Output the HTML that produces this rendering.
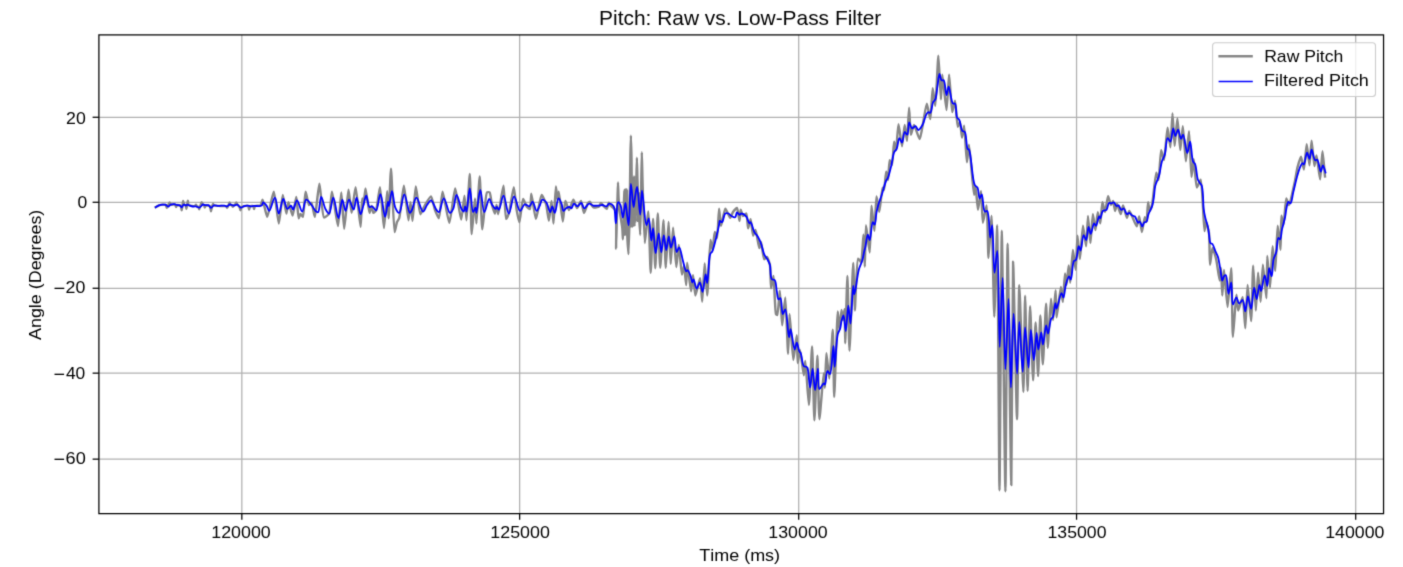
<!DOCTYPE html>
<html><head><meta charset="utf-8"><style>
html,body{margin:0;padding:0;background:#fff;width:1403px;height:567px;overflow:hidden}
svg{display:block}
text{font-family:"Liberation Sans",sans-serif;font-kerning:none;}
</style></head><body>
<svg width="1403" height="567" viewBox="0 0 1403 567">
<defs><filter id="soft" filterUnits="userSpaceOnUse" x="0" y="0" width="1403" height="567" color-interpolation-filters="sRGB"><feConvolveMatrix order="3" kernelMatrix="0.01917 0.10012 0.01917 0.10012 0.52283 0.10012 0.01917 0.10012 0.01917" divisor="1" edgeMode="duplicate"/></filter></defs>
<g filter="url(#soft)">
<rect width="1403" height="567" fill="#fff"/>
<line x1="241.83" y1="34.90" x2="241.83" y2="513.63" stroke="#b0b0b0" stroke-width="1.25"/>
<line x1="519.64" y1="34.90" x2="519.64" y2="513.63" stroke="#b0b0b0" stroke-width="1.25"/>
<line x1="798.70" y1="34.90" x2="798.70" y2="513.63" stroke="#b0b0b0" stroke-width="1.25"/>
<line x1="1076.56" y1="34.90" x2="1076.56" y2="513.63" stroke="#b0b0b0" stroke-width="1.25"/>
<line x1="1355.70" y1="34.90" x2="1355.70" y2="513.63" stroke="#b0b0b0" stroke-width="1.25"/>
<line x1="98.90" y1="117.27" x2="1383.55" y2="117.27" stroke="#b0b0b0" stroke-width="1.25"/>
<line x1="98.90" y1="202.27" x2="1383.55" y2="202.27" stroke="#b0b0b0" stroke-width="1.25"/>
<line x1="98.90" y1="288.27" x2="1383.55" y2="288.27" stroke="#b0b0b0" stroke-width="1.25"/>
<line x1="98.90" y1="373.15" x2="1383.55" y2="373.15" stroke="#b0b0b0" stroke-width="1.25"/>
<line x1="98.90" y1="459.15" x2="1383.55" y2="459.15" stroke="#b0b0b0" stroke-width="1.25"/>
<polygon points="623.6,191.0 628.2,190.0 628.2,235.0 623.6,236.0" fill="#878787"/>
<polygon points="629.3,178.0 635.6,176.0 635.6,226.0 629.3,228.0" fill="#878787"/>
<polygon points="637.0,193.0 640.5,192.0 640.5,222.0 637.0,222.0" fill="#878787"/>
<path d="M155.70,207.20 C156.29,206.87 158.28,205.64 158.90,205.40 C159.52,205.16 161.85,204.63 162.50,204.60 C163.12,204.57 165.41,204.69 165.80,205.00 C166.17,205.30 166.59,207.79 166.80,207.80 C167.00,207.81 167.76,205.95 168.00,205.50 C168.27,204.97 169.33,202.40 169.60,202.40 C169.84,202.40 170.41,204.58 170.80,204.80 C171.30,205.07 174.53,204.11 175.00,204.40 C175.38,204.64 175.81,206.99 176.00,207.00 C176.17,207.01 176.67,205.15 177.00,205.00 C177.44,204.80 180.37,205.54 180.80,206.00 C181.26,206.48 181.55,210.30 181.70,210.30 C181.85,210.30 182.28,206.82 182.40,206.00 C182.53,205.12 182.92,201.01 183.10,201.00 C183.26,200.99 183.86,204.46 184.20,204.80 C184.41,205.01 185.41,204.99 185.60,205.20 C185.91,205.53 186.27,208.80 186.40,208.80 C186.54,208.80 186.97,205.54 187.10,204.80 C187.23,204.04 187.66,200.60 187.80,200.60 C187.94,200.60 188.08,204.49 188.60,205.00 C189.23,205.61 194.37,206.27 195.00,206.00 C195.33,205.86 195.82,204.59 196.00,204.60 C196.19,204.61 196.77,206.08 197.00,206.30 C197.20,206.49 198.11,206.79 198.30,207.00 C198.54,207.27 199.03,209.20 199.20,209.20 C199.40,209.19 200.09,206.61 200.30,206.00 C200.53,205.33 201.34,202.22 201.60,202.20 C201.81,202.19 202.52,204.36 202.80,204.60 C202.99,204.77 203.83,204.83 204.00,205.00 C204.25,205.25 204.63,207.49 204.80,207.50 C204.96,207.51 205.45,205.47 205.80,205.30 C206.27,205.08 209.52,205.89 210.00,206.40 C210.52,206.95 210.81,211.30 211.00,211.30 C211.18,211.30 211.78,207.33 212.00,206.60 C212.16,206.05 212.77,204.04 213.00,204.00 C213.19,203.97 213.86,205.22 214.20,205.40 C214.72,205.67 217.59,205.82 218.50,205.90 C219.72,206.00 225.60,205.90 226.30,206.30 C226.62,206.49 227.03,207.71 227.20,207.70 C227.41,207.69 228.20,205.95 228.40,205.50 C228.63,204.99 229.29,202.41 229.50,202.40 C229.69,202.39 230.34,204.53 230.60,204.80 C230.79,204.99 231.61,205.23 231.80,205.40 C232.01,205.59 232.52,206.79 232.70,206.80 C232.89,206.81 233.56,205.61 233.80,205.40 C234.04,205.19 235.08,204.74 235.30,204.50 C235.55,204.22 236.11,202.40 236.30,202.40 C236.50,202.40 237.12,204.42 237.40,204.80 C237.68,205.18 239.13,206.08 239.40,206.50 C239.73,207.01 240.20,210.19 240.40,210.20 C240.57,210.21 241.06,207.78 241.40,207.40 C241.74,207.02 243.54,206.24 244.10,206.10 C244.76,205.94 247.75,205.66 248.20,206.00 C248.63,206.32 248.92,209.50 249.10,209.50 C249.27,209.50 249.71,206.62 250.10,206.30 C250.48,205.99 252.83,205.75 253.20,206.00 C253.57,206.25 253.94,209.00 254.10,209.00 C254.26,209.00 254.58,206.34 255.00,206.00 C255.56,205.54 259.80,206.04 260.50,205.50 C261.23,204.93 262.17,199.68 262.60,199.70 C263.32,199.73 266.29,216.90 267.20,216.90 C268.31,216.90 272.77,191.65 273.80,191.70 C274.94,191.76 277.96,223.51 278.80,223.50 C279.60,223.49 282.02,195.02 282.80,195.00 C283.43,194.98 285.85,213.60 286.40,213.60 C286.83,213.60 287.88,202.33 288.40,202.30 C288.98,202.26 291.92,215.64 292.60,215.60 C293.40,215.56 295.75,196.98 296.30,197.00 C296.88,197.02 298.07,218.11 298.70,218.20 C298.99,218.24 300.09,214.06 300.50,214.00 C300.87,213.95 302.53,217.01 302.90,216.90 C303.86,216.61 304.90,191.75 305.60,191.70 C306.11,191.66 308.16,204.72 309.00,205.00 C309.41,205.14 311.10,202.86 311.50,203.00 C312.35,203.29 314.22,216.93 314.80,216.90 C315.69,216.86 318.56,183.80 319.40,183.80 C320.25,183.80 322.24,216.78 324.00,217.50 C324.76,217.81 328.39,214.82 329.10,213.60 C330.41,211.33 331.32,191.71 332.00,191.70 C332.86,191.68 337.14,226.13 338.00,226.10 C338.84,226.07 340.74,192.39 341.30,192.40 C341.88,192.41 343.56,228.79 344.20,228.80 C344.87,228.81 347.74,189.81 348.50,189.80 C349.09,189.79 350.97,212.89 351.60,212.90 C352.27,212.91 354.86,187.09 355.60,187.10 C356.51,187.11 359.99,226.82 360.60,226.80 C361.11,226.78 361.77,198.43 362.20,198.40 C362.41,198.39 363.26,205.01 363.50,205.00 C363.87,204.99 365.03,188.41 365.50,188.40 C366.08,188.39 368.80,212.86 369.50,212.90 C369.88,212.92 371.14,206.00 371.50,206.00 C371.86,206.00 372.86,212.75 373.40,212.90 C373.79,213.01 375.66,211.13 376.10,210.30 C377.19,208.23 379.35,187.08 380.00,187.10 C380.85,187.13 383.33,228.10 384.00,228.10 C384.64,228.10 386.77,191.09 387.20,191.10 C387.57,191.11 388.31,218.20 388.60,218.20 C388.99,218.20 390.49,168.60 391.00,168.60 C391.57,168.60 393.63,232.01 394.60,232.10 C394.99,232.13 396.45,223.38 397.00,222.00 C397.36,221.10 398.82,219.29 399.20,218.20 C400.24,215.22 403.06,185.80 403.90,185.80 C404.77,185.80 407.85,220.21 408.50,220.20 C408.97,220.19 410.14,202.30 410.50,202.30 C410.87,202.30 412.10,220.80 412.50,220.80 C413.04,220.80 415.02,186.53 415.80,186.50 C416.50,186.48 419.21,214.02 420.40,214.20 C421.12,214.31 424.03,206.62 425.00,205.00 C425.98,203.36 430.12,196.26 431.00,196.40 C432.03,196.57 434.18,207.85 435.00,210.00 C435.66,211.72 438.30,218.29 438.90,218.20 C439.93,218.04 441.71,191.73 442.60,191.70 C443.57,191.66 448.17,222.82 449.30,222.80 C450.49,222.77 454.08,188.41 455.20,188.40 C456.27,188.39 460.32,219.52 461.20,219.50 C461.97,219.48 464.02,195.69 464.50,195.70 C464.99,195.71 466.10,220.20 466.50,220.20 C467.05,220.20 469.33,173.89 469.80,173.90 C470.33,173.91 471.11,234.08 471.70,234.10 C472.16,234.11 474.56,198.39 475.00,198.40 C475.37,198.41 476.07,223.50 476.40,223.50 C476.86,223.50 479.17,176.49 479.70,176.50 C480.26,176.51 481.52,229.37 482.30,229.40 C482.95,229.43 485.39,193.82 487.00,192.40 C487.42,192.03 489.21,192.08 489.60,192.40 C490.47,193.12 491.46,202.93 492.00,205.00 C492.46,206.74 494.49,213.63 494.90,213.60 C495.31,213.57 496.20,205.00 496.50,205.00 C496.81,205.00 497.80,214.20 498.20,214.20 C498.90,214.20 502.78,185.76 503.50,185.80 C504.27,185.84 505.14,218.71 506.10,218.90 C506.51,218.98 508.33,214.99 508.80,213.60 C509.81,210.64 513.06,187.08 513.80,187.10 C514.49,187.12 516.08,206.76 516.70,210.30 C517.15,212.86 518.91,222.22 519.40,222.20 C520.08,222.18 522.12,199.15 523.10,199.00 C523.70,198.91 526.19,206.09 527.00,207.00 C527.51,207.57 529.59,209.10 530.00,208.90 C530.85,208.48 530.88,193.72 531.30,193.70 C531.84,193.67 534.94,218.87 535.90,218.90 C536.84,218.93 540.42,195.13 541.60,195.00 C542.35,194.92 545.37,202.04 546.00,204.00 C546.83,206.55 548.41,220.81 548.90,220.80 C549.43,220.79 551.09,200.99 551.50,201.00 C551.94,201.01 553.14,223.50 553.50,223.50 C553.96,223.49 555.43,186.51 555.90,186.50 C556.18,186.49 557.20,199.99 557.50,200.00 C557.73,200.00 558.51,191.70 558.80,191.70 C559.35,191.71 562.15,221.50 562.80,221.50 C563.34,221.50 564.63,201.10 565.40,201.00 C565.92,200.93 568.30,209.99 569.00,210.00 C569.76,210.01 572.63,199.70 573.40,199.70 C574.09,199.70 576.28,207.96 577.00,208.00 C577.68,208.04 580.40,200.92 581.00,201.00 C581.75,201.10 583.33,212.85 584.00,212.90 C584.63,212.94 587.22,203.90 588.00,203.00 C588.37,202.57 589.79,201.70 590.10,201.80 C590.47,201.92 591.14,204.48 591.50,205.00 C591.86,205.52 593.40,207.32 594.00,207.50 C594.72,207.72 598.35,206.97 599.00,206.50 C599.58,206.08 600.61,203.03 601.00,203.00 C601.35,202.97 602.55,205.03 603.00,205.50 C603.56,206.09 606.29,208.94 606.80,208.80 C607.38,208.64 608.29,202.86 608.70,202.80 C609.00,202.76 610.05,204.97 610.50,205.50 C611.14,206.25 614.66,208.56 615.30,210.00 C616.85,213.48 615.95,248.60 616.10,248.60 C616.24,248.60 616.75,220.12 616.90,215.00 C617.01,211.36 617.40,201.04 617.50,198.00 C617.60,195.09 617.90,182.50 618.00,182.50 C618.10,182.50 618.44,195.29 618.60,198.00 C618.74,200.47 619.30,208.37 619.60,210.90 C619.94,213.82 622.00,225.18 622.30,228.00 C622.54,230.28 622.80,239.30 622.90,239.30 C623.02,239.30 623.37,228.20 623.50,225.00 C623.70,220.00 623.63,191.51 624.80,190.00 C625.06,189.66 626.24,189.31 626.50,189.50 C627.83,190.48 626.93,227.84 627.20,234.40 C627.38,238.75 628.30,254.10 628.50,254.10 C628.78,254.09 629.44,222.93 629.60,215.00 C629.80,205.17 630.24,162.97 630.40,155.00 C630.49,150.46 630.80,135.60 630.90,135.60 C631.00,135.60 631.40,152.77 631.50,158.00 C631.67,167.18 631.93,227.00 632.20,227.00 C632.43,227.00 633.68,176.30 634.00,176.30 C634.24,176.30 635.12,200.42 635.30,205.00 C635.44,208.52 635.81,222.00 635.90,222.00 C636.04,222.00 636.28,184.52 636.40,178.00 C636.48,173.58 636.80,157.80 636.90,157.80 C637.00,157.80 637.37,175.81 637.50,180.00 C637.64,184.45 638.17,200.21 638.40,205.00 C638.65,210.25 639.96,235.00 640.20,235.00 C640.50,234.99 640.95,197.89 641.10,190.00 C641.24,182.77 641.66,152.20 641.80,152.20 C641.92,152.20 642.31,173.88 642.50,180.00 C642.78,189.22 644.11,242.98 644.80,243.00 C645.29,243.02 647.70,211.48 648.20,211.50 C648.90,211.52 650.24,272.70 650.70,272.70 C651.13,272.70 652.67,219.00 653.10,219.00 C653.51,219.00 654.88,268.30 655.30,268.30 C655.74,268.30 657.35,213.40 657.80,213.40 C658.25,213.40 659.64,267.69 660.20,267.70 C660.72,267.71 663.09,220.19 663.60,220.20 C664.11,220.21 665.34,267.70 665.80,267.70 C666.26,267.70 668.14,222.00 668.60,222.00 C669.04,222.00 670.27,264.00 670.70,264.00 C671.10,264.00 672.60,227.60 673.10,227.60 C673.62,227.60 675.70,267.09 676.30,267.10 C676.75,267.11 678.33,244.90 678.80,244.90 C679.35,244.90 681.24,274.45 681.90,274.50 C682.26,274.52 683.66,265.98 684.00,266.00 C684.50,266.03 685.91,285.01 686.20,285.00 C686.51,284.99 686.81,262.82 687.20,262.80 C687.65,262.78 690.53,291.21 691.10,291.20 C691.53,291.20 692.63,275.10 693.00,275.10 C693.41,275.10 694.71,295.45 695.40,295.50 C696.04,295.55 699.48,278.15 700.10,278.20 C700.81,278.26 701.83,301.70 702.20,301.70 C702.68,301.69 704.22,263.40 704.70,263.40 C705.14,263.40 706.74,295.50 707.20,295.50 C707.80,295.49 709.72,239.95 710.50,239.90 C710.83,239.88 712.15,250.01 712.50,250.00 C712.96,249.98 714.22,232.07 714.80,232.00 C715.15,231.96 716.67,238.05 717.00,238.00 C717.71,237.90 718.68,208.61 719.10,208.60 C719.43,208.59 720.44,225.86 721.00,225.90 C721.57,225.94 724.29,208.72 725.30,208.60 C726.07,208.50 729.44,217.82 730.20,217.80 C730.80,217.79 732.35,212.92 733.00,212.00 C733.61,211.14 736.44,207.83 737.00,208.00 C737.86,208.26 739.16,220.91 739.50,220.90 C739.82,220.89 740.29,209.85 740.70,209.80 C741.01,209.76 742.39,215.82 743.00,216.00 C743.49,216.14 745.84,213.31 746.30,213.50 C747.17,213.87 747.63,228.27 748.10,228.30 C748.47,228.33 750.19,219.08 750.60,219.10 C751.14,219.13 752.48,235.62 753.10,235.70 C753.48,235.75 755.07,229.96 755.50,230.00 C756.24,230.07 758.71,248.08 759.30,248.10 C759.65,248.11 760.67,241.99 761.00,242.00 C761.54,242.02 763.23,258.84 764.20,259.20 C764.64,259.36 766.55,256.87 767.00,257.00 C767.68,257.19 769.52,262.95 769.90,264.80 C770.54,267.91 770.66,288.27 771.10,288.30 C771.42,288.32 773.12,275.98 773.50,276.00 C774.16,276.04 774.93,312.42 776.00,314.20 C776.21,314.56 777.09,315.11 777.30,315.00 C778.15,314.58 779.38,290.69 779.80,290.70 C780.30,290.71 781.66,325.39 782.20,325.40 C782.69,325.41 784.82,297.49 785.30,297.50 C785.98,297.52 787.69,353.80 788.10,353.80 C788.45,353.80 789.15,314.31 789.60,314.30 C790.08,314.29 792.51,359.98 793.30,360.00 C793.88,360.02 796.39,335.28 796.80,335.30 C797.23,335.32 797.27,363.07 797.70,363.10 C798.00,363.12 799.54,349.99 800.00,350.00 C800.63,350.01 803.29,375.41 803.80,375.40 C804.18,375.39 804.99,361.00 805.30,361.00 C805.85,361.01 808.31,405.01 808.90,405.00 C809.58,404.99 811.61,346.39 812.10,346.40 C812.65,346.41 813.89,420.40 814.40,420.40 C814.87,420.40 816.94,355.70 817.40,355.70 C817.86,355.70 818.73,419.18 819.40,419.20 C819.97,419.22 823.16,373.50 823.70,373.50 C824.00,373.50 824.70,387.70 824.90,387.70 C825.22,387.69 825.94,353.22 826.40,353.20 C826.80,353.19 828.80,378.51 829.30,378.50 C830.00,378.49 832.35,329.79 832.80,329.80 C833.32,329.81 833.79,397.00 834.20,397.00 C834.66,397.00 837.13,311.52 837.80,311.50 C838.11,311.49 839.17,330.00 839.50,330.00 C839.85,330.00 841.12,309.91 841.50,309.90 C841.77,309.89 842.72,320.00 843.00,320.00 C843.29,320.00 844.39,309.29 844.60,309.30 C844.97,309.32 845.02,343.30 845.20,343.30 C845.46,343.30 847.02,275.90 847.40,275.90 C847.81,275.90 849.00,350.70 849.50,350.70 C850.04,350.70 852.68,263.00 853.20,263.00 C853.58,263.00 854.37,310.49 854.80,310.50 C855.25,310.51 856.56,259.11 858.10,258.60 C858.55,258.45 860.57,262.14 861.00,262.00 C862.07,261.66 863.16,234.59 863.50,234.60 C863.87,234.61 864.58,266.70 864.80,266.70 C865.05,266.70 865.44,225.33 866.00,225.30 C866.45,225.28 869.21,252.52 869.70,252.50 C870.35,252.47 870.94,205.62 871.50,205.60 C871.91,205.58 873.96,230.91 874.40,230.90 C874.91,230.89 875.89,196.44 876.50,196.40 C876.91,196.38 878.80,211.71 879.30,211.70 C879.93,211.69 881.88,187.74 882.60,187.60 C882.84,187.55 883.77,190.05 884.00,190.00 C884.59,189.88 885.75,171.72 886.20,171.70 C886.51,171.69 887.72,180.02 888.00,180.00 C888.43,179.97 889.05,160.42 889.70,160.30 C890.03,160.24 891.66,165.06 892.00,165.00 C892.73,164.87 893.60,141.73 894.10,141.70 C894.40,141.68 895.68,150.02 896.00,150.00 C896.55,149.96 897.92,124.12 898.50,124.10 C899.04,124.08 901.43,146.21 902.00,146.20 C902.56,146.19 904.21,125.00 904.70,125.00 C905.13,125.00 906.64,140.91 907.00,140.90 C907.52,140.88 908.72,107.80 909.10,107.80 C909.44,107.80 910.20,134.61 910.90,134.70 C911.33,134.75 913.30,125.03 914.00,125.00 C914.85,124.97 918.87,139.17 919.70,139.10 C920.58,139.02 922.57,125.46 923.20,122.30 C923.87,118.97 926.12,103.61 926.80,103.60 C927.42,103.59 929.79,119.14 930.30,119.10 C931.01,119.05 932.15,88.12 932.70,88.10 C933.11,88.09 934.87,105.72 935.30,105.70 C936.01,105.67 937.87,55.60 938.40,55.60 C938.89,55.60 940.51,99.40 940.90,99.40 C941.19,99.40 941.87,74.71 942.30,74.70 C942.82,74.68 945.88,110.01 946.50,110.00 C947.12,109.99 948.59,74.70 949.10,74.70 C949.63,74.70 951.40,112.04 952.20,112.10 C952.64,112.14 954.56,100.77 955.00,100.80 C955.67,100.85 957.03,126.78 957.80,126.90 C958.15,126.96 959.67,121.95 960.00,122.00 C960.57,122.08 961.60,137.59 962.00,137.60 C962.36,137.61 963.75,125.58 964.10,125.60 C964.71,125.63 966.36,162.29 966.90,162.30 C967.27,162.31 968.56,144.70 969.00,144.70 C969.75,144.71 973.27,194.77 974.00,194.80 C974.31,194.81 975.22,185.99 975.50,186.00 C975.95,186.01 977.46,209.78 978.00,209.80 C978.48,209.81 980.57,191.18 981.00,191.20 C981.55,191.23 982.23,222.65 982.90,222.70 C983.40,222.74 986.10,205.36 986.60,205.40 C987.47,205.48 988.01,257.89 988.50,257.90 C988.94,257.91 991.04,215.89 991.50,215.90 C992.22,215.92 993.77,316.70 994.30,316.70 C994.80,316.70 996.68,225.20 997.10,225.20 C997.81,225.21 999.07,490.30 999.50,490.30 C999.93,490.30 1001.26,230.70 1001.80,230.70 C1002.34,230.70 1004.86,491.40 1005.40,491.40 C1005.92,491.40 1007.05,243.70 1007.60,243.70 C1008.14,243.70 1010.79,485.00 1011.30,485.00 C1011.79,485.00 1012.49,261.71 1013.10,261.70 C1013.62,261.70 1016.42,419.40 1017.00,419.40 C1017.54,419.40 1018.66,285.21 1019.30,285.20 C1019.87,285.19 1022.87,391.91 1023.40,391.90 C1023.91,391.89 1024.71,295.70 1025.10,295.70 C1025.48,295.70 1027.13,390.90 1027.60,390.90 C1028.05,390.90 1029.57,306.20 1030.10,306.20 C1030.59,306.20 1032.57,380.40 1033.10,380.40 C1033.57,380.40 1035.13,322.40 1035.60,322.40 C1036.05,322.40 1037.68,376.10 1038.10,376.10 C1038.55,376.10 1039.84,315.40 1040.30,315.40 C1040.71,315.40 1042.30,364.40 1042.80,364.40 C1043.36,364.40 1045.64,303.70 1046.10,303.70 C1046.50,303.70 1047.27,347.69 1047.70,347.70 C1048.15,347.71 1050.42,298.81 1051.00,298.80 C1051.38,298.79 1052.62,320.00 1053.00,320.00 C1053.45,320.00 1055.27,290.09 1055.60,290.10 C1055.92,290.11 1056.14,317.28 1056.60,317.30 C1057.08,317.33 1060.28,287.00 1060.90,287.00 C1061.33,287.00 1062.47,301.91 1062.80,301.90 C1063.25,301.89 1064.58,273.51 1065.00,273.50 C1065.27,273.49 1066.21,285.00 1066.50,285.00 C1066.88,285.00 1068.35,265.40 1068.70,265.40 C1069.03,265.40 1069.89,282.70 1070.20,282.70 C1070.63,282.70 1072.31,250.02 1072.90,250.00 C1073.36,249.99 1075.30,269.82 1075.70,269.80 C1076.22,269.78 1077.06,235.71 1077.50,235.70 C1077.86,235.69 1079.44,259.10 1079.90,259.10 C1080.44,259.10 1082.34,225.82 1083.00,225.80 C1083.51,225.79 1085.66,246.22 1086.10,246.20 C1086.64,246.18 1087.59,215.91 1088.00,215.90 C1088.39,215.90 1089.96,243.10 1090.40,243.10 C1090.86,243.10 1092.35,214.12 1092.90,214.10 C1093.31,214.09 1094.96,230.10 1095.40,230.10 C1095.86,230.09 1097.28,212.22 1097.80,212.20 C1098.21,212.18 1099.92,223.32 1100.30,223.30 C1100.82,223.27 1101.83,202.35 1102.40,202.30 C1102.79,202.27 1104.54,212.02 1105.00,212.00 C1105.59,211.98 1107.46,196.24 1108.10,196.20 C1108.59,196.17 1110.47,204.96 1111.00,205.00 C1111.37,205.03 1112.68,200.96 1113.00,201.00 C1113.49,201.06 1114.70,210.99 1115.10,211.00 C1115.44,211.01 1116.56,204.02 1117.00,204.00 C1117.54,203.98 1120.12,214.12 1120.70,214.10 C1121.23,214.08 1122.60,205.41 1123.10,205.40 C1123.70,205.39 1126.26,217.79 1126.90,217.80 C1127.37,217.81 1128.80,211.04 1129.30,211.00 C1129.75,210.97 1131.46,214.91 1132.00,216.00 C1132.77,217.55 1136.03,226.46 1136.70,226.40 C1137.33,226.34 1138.77,216.48 1139.20,216.50 C1139.74,216.52 1141.38,231.99 1141.90,232.00 C1142.41,232.01 1144.27,217.24 1144.80,217.20 C1145.11,217.18 1146.24,222.03 1146.50,222.00 C1147.01,221.93 1147.72,202.32 1148.10,202.30 C1148.35,202.29 1149.30,210.96 1149.70,211.00 C1150.04,211.03 1151.60,206.57 1152.00,205.00 C1152.90,201.46 1155.48,172.77 1156.30,172.70 C1156.70,172.67 1158.15,180.04 1158.50,180.00 C1159.20,179.93 1160.46,150.17 1161.20,150.10 C1161.63,150.06 1163.54,160.04 1164.00,160.00 C1164.82,159.93 1166.94,127.61 1167.60,127.60 C1168.11,127.59 1169.98,147.32 1170.40,147.30 C1170.95,147.28 1172.11,113.50 1172.50,113.50 C1172.88,113.50 1174.13,145.89 1174.60,145.90 C1175.04,145.91 1176.90,118.40 1177.40,118.40 C1177.94,118.40 1179.77,150.10 1180.30,150.10 C1180.76,150.10 1182.34,126.20 1182.80,126.20 C1183.36,126.20 1185.31,161.40 1185.90,161.40 C1186.45,161.40 1188.52,131.09 1189.00,131.10 C1189.59,131.11 1190.92,176.88 1191.50,176.90 C1191.86,176.91 1193.28,159.30 1193.70,159.30 C1194.24,159.30 1195.76,187.21 1196.80,187.40 C1197.37,187.51 1200.11,179.68 1200.70,179.80 C1202.15,180.09 1203.83,230.97 1204.50,231.00 C1204.78,231.01 1205.62,222.02 1206.00,222.00 C1206.42,221.98 1208.61,230.43 1209.00,233.00 C1209.64,237.28 1209.56,264.67 1210.00,264.70 C1210.32,264.72 1211.85,248.05 1212.50,248.00 C1213.04,247.95 1215.61,256.96 1216.20,259.40 C1216.99,262.66 1219.25,280.61 1219.70,280.60 C1220.05,280.59 1220.79,267.99 1221.00,268.00 C1221.31,268.01 1222.02,295.60 1222.30,295.60 C1222.57,295.60 1223.58,270.01 1224.00,270.00 C1224.50,269.99 1226.95,307.00 1227.60,307.00 C1228.27,307.00 1230.72,268.18 1231.20,268.20 C1231.83,268.22 1232.31,336.98 1232.90,337.00 C1233.37,337.01 1235.82,294.71 1236.40,294.70 C1236.75,294.69 1237.59,310.44 1238.20,310.50 C1238.77,310.56 1241.98,297.23 1242.60,297.30 C1243.52,297.41 1244.87,328.21 1245.30,328.20 C1245.81,328.19 1247.03,285.01 1247.60,285.00 C1248.12,284.99 1250.61,321.11 1251.10,321.10 C1251.71,321.08 1252.74,265.60 1253.20,265.60 C1253.61,265.60 1255.33,310.50 1255.80,310.50 C1256.23,310.50 1257.62,272.61 1258.10,272.60 C1258.52,272.59 1260.18,301.70 1260.60,301.70 C1261.07,301.69 1262.35,264.71 1262.90,264.70 C1263.42,264.69 1265.99,298.22 1266.40,298.20 C1266.86,298.18 1266.92,255.91 1267.30,255.90 C1267.63,255.89 1269.54,287.61 1270.00,287.60 C1270.52,287.59 1272.04,246.21 1272.60,246.20 C1273.03,246.19 1274.78,270.91 1275.20,270.90 C1275.76,270.89 1277.10,225.72 1277.70,225.70 C1278.14,225.69 1280.16,249.72 1280.50,249.70 C1280.91,249.68 1280.87,215.85 1281.40,215.80 C1281.68,215.77 1283.14,225.02 1283.50,225.00 C1284.10,224.96 1285.49,198.62 1286.30,198.50 C1286.72,198.44 1288.48,205.04 1289.00,205.00 C1289.95,204.93 1293.88,185.94 1294.70,182.20 C1295.36,179.21 1296.86,169.87 1297.50,167.40 C1298.05,165.28 1300.43,156.77 1301.00,156.80 C1301.62,156.83 1303.44,169.53 1303.90,169.50 C1304.55,169.46 1306.16,144.11 1306.70,144.10 C1307.19,144.09 1309.06,165.31 1309.50,165.30 C1309.97,165.29 1311.16,140.61 1311.60,140.60 C1312.05,140.59 1313.84,165.98 1314.40,166.00 C1314.76,166.02 1316.09,155.39 1316.50,155.40 C1317.11,155.41 1319.56,179.42 1320.10,179.40 C1320.68,179.38 1322.04,151.20 1322.50,151.20 C1322.94,151.20 1324.54,171.86 1325.00,176.50" fill="none" stroke="#878787" stroke-width="2.4" stroke-linejoin="round" stroke-linecap="square"/>
<path d="M155.70,207.20 C156.77,206.60 157.77,205.83 158.90,205.40 C160.03,204.97 161.37,204.70 162.50,204.60 C163.49,204.51 164.39,204.42 165.30,204.70 C166.30,205.00 167.28,206.54 168.20,206.50 C169.08,206.46 169.74,204.99 170.70,204.60 C171.72,204.19 173.28,204.13 174.20,204.20 C174.81,204.24 175.12,204.47 175.70,204.60 C176.49,204.77 177.68,204.87 178.50,205.10 C179.18,205.29 179.78,205.43 180.30,205.80 C180.85,206.19 181.22,207.43 181.70,207.40 C182.29,207.36 182.84,205.00 183.50,204.70 C183.94,204.50 184.48,204.74 184.90,204.90 C185.31,205.05 185.61,205.61 186.00,205.60 C186.44,205.59 186.88,204.66 187.40,204.60 C187.95,204.53 188.49,205.05 189.20,205.30 C190.19,205.66 191.62,206.35 192.80,206.50 C193.88,206.64 194.93,206.14 196.00,206.30 C197.13,206.47 198.31,207.79 199.40,207.60 C200.65,207.38 201.87,204.74 203.00,204.50 C203.80,204.33 204.46,205.08 205.30,205.20 C206.27,205.34 207.57,204.80 208.50,205.20 C209.49,205.63 210.10,207.84 211.00,207.90 C211.93,207.96 212.81,205.76 214.00,205.40 C215.28,205.02 216.89,205.85 218.50,205.90 C220.35,205.96 223.01,205.35 224.50,205.60 C225.44,205.76 225.92,206.57 226.70,206.50 C227.69,206.42 228.76,204.65 229.90,204.50 C231.06,204.34 232.37,205.57 233.60,205.60 C234.80,205.63 236.05,204.45 237.20,204.70 C238.50,204.99 239.67,207.57 240.90,207.70 C241.97,207.82 242.97,206.45 244.10,206.10 C245.24,205.75 246.58,205.54 247.70,205.60 C248.70,205.65 249.50,206.23 250.50,206.30 C251.62,206.38 252.82,205.94 254.10,205.90 C255.54,205.85 257.31,206.22 258.70,206.10 C259.87,206.00 261.15,206.02 261.90,205.40 C262.66,204.77 262.54,202.43 263.20,202.30 C263.98,202.15 265.54,204.28 266.50,205.60 C267.58,207.09 268.17,210.93 269.20,210.90 C270.80,210.85 273.33,197.57 274.90,197.70 C276.58,197.84 277.37,213.56 278.80,213.60 C280.18,213.64 281.75,199.07 283.30,199.00 C284.60,198.94 285.68,208.52 287.30,208.90 C288.40,209.16 290.04,205.42 291.00,205.60 C291.91,205.77 292.25,209.62 293.00,209.60 C294.13,209.57 295.56,200.32 297.00,200.30 C298.60,200.28 300.67,211.68 302.20,211.60 C303.74,211.52 304.33,200.14 306.20,199.70 C307.65,199.36 309.94,203.11 311.50,205.00 C313.03,206.85 314.15,209.72 315.50,210.90 C316.36,211.65 317.36,212.56 318.10,212.20 C319.82,211.36 319.89,196.89 321.20,196.80 C322.38,196.72 323.76,205.90 325.40,208.90 C326.52,210.95 328.01,213.83 329.10,213.60 C330.90,213.23 331.85,197.69 333.30,197.70 C334.94,197.71 336.87,218.23 338.40,218.20 C339.85,218.17 340.97,199.75 342.30,199.70 C343.35,199.66 344.39,210.89 345.50,210.90 C346.62,210.91 347.62,199.79 349.00,199.70 C350.33,199.61 352.35,209.72 353.60,209.60 C354.92,209.48 355.54,197.70 356.60,197.70 C357.85,197.71 359.30,214.16 360.60,214.20 C361.58,214.23 362.57,208.08 363.50,205.00 C364.43,201.91 365.25,195.70 366.20,195.70 C367.24,195.70 367.92,206.11 369.50,207.00 C370.26,207.42 371.21,206.06 372.10,206.30 C373.39,206.64 374.95,210.61 376.10,210.30 C378.08,209.77 379.01,194.06 380.40,194.10 C382.03,194.15 383.74,216.91 385.10,216.90 C386.21,216.89 387.31,201.70 388.00,201.70 C388.38,201.70 388.50,206.30 388.90,206.30 C389.62,206.30 390.96,191.10 392.00,191.10 C393.09,191.10 393.60,203.75 395.30,207.60 C396.36,210.01 398.01,213.12 399.20,212.90 C401.23,212.53 402.54,194.42 404.30,194.40 C406.07,194.38 408.12,212.59 409.80,212.90 C410.49,213.03 411.10,211.57 411.80,210.30 C413.21,207.74 414.62,197.78 416.40,197.70 C418.31,197.61 420.99,211.50 423.00,211.60 C424.43,211.67 425.58,206.96 427.00,205.00 C428.27,203.24 429.66,200.17 431.00,200.30 C432.76,200.47 434.71,207.52 436.30,209.60 C437.23,210.82 438.05,212.39 438.90,212.20 C440.60,211.82 442.01,198.45 443.80,198.40 C445.66,198.35 447.94,212.61 449.90,212.90 C451.02,213.07 452.26,210.78 453.20,208.90 C454.75,205.78 455.11,195.08 456.50,195.00 C457.95,194.92 460.18,207.05 461.80,209.60 C462.49,210.69 463.28,211.74 463.80,211.60 C464.52,211.40 464.65,206.30 465.10,206.30 C465.55,206.30 466.01,211.63 466.50,211.60 C467.51,211.54 468.71,188.40 469.80,188.40 C470.91,188.40 471.62,211.96 473.10,212.20 C473.79,212.31 474.85,207.52 475.40,207.60 C475.96,207.68 475.97,212.90 476.40,212.90 C477.29,212.89 478.97,189.81 480.30,189.80 C481.61,189.79 482.55,212.04 484.30,212.20 C485.68,212.32 487.68,199.08 489.20,199.00 C490.25,198.94 491.05,203.28 492.20,205.00 C493.21,206.51 494.76,208.95 495.60,208.90 C496.16,208.87 496.41,207.01 496.90,207.00 C497.49,206.98 498.21,209.72 498.90,209.60 C500.35,209.35 501.95,195.68 503.50,195.70 C505.25,195.73 507.02,213.59 508.80,213.60 C510.55,213.61 512.16,196.49 514.10,196.40 C515.91,196.32 517.91,210.66 520.00,210.90 C521.50,211.08 522.92,204.79 524.70,204.30 C526.10,203.91 528.01,206.66 529.30,206.30 C530.67,205.92 531.54,201.59 532.60,201.70 C534.01,201.85 535.24,210.82 536.60,210.90 C537.72,210.96 539.02,206.94 540.00,205.00 C540.90,203.21 541.18,200.03 542.30,199.70 C543.31,199.40 545.07,200.91 546.20,202.30 C547.91,204.40 549.13,212.23 550.20,212.20 C551.02,212.18 551.46,206.32 552.20,206.30 C552.99,206.28 553.94,212.95 554.80,212.90 C556.05,212.82 557.06,198.59 558.50,198.40 C559.42,198.28 560.70,201.74 561.50,203.70 C562.38,205.87 562.40,210.62 563.40,210.90 C564.11,211.10 565.08,208.95 566.10,208.30 C567.09,207.66 568.46,206.90 569.40,207.00 C570.17,207.08 570.77,208.45 571.40,208.30 C572.34,208.07 572.94,203.91 574.00,203.70 C574.95,203.51 576.15,206.31 577.30,206.30 C578.57,206.29 580.18,202.78 581.30,203.00 C582.51,203.23 582.94,208.09 584.20,208.30 C585.54,208.52 587.54,203.95 589.20,203.70 C590.54,203.50 591.73,205.27 593.20,205.60 C594.81,205.96 596.86,205.72 598.50,205.60 C599.93,205.49 601.19,204.89 602.50,205.00 C603.82,205.11 605.27,206.56 606.40,206.30 C607.50,206.05 608.11,203.72 609.20,203.60 C610.46,203.46 612.50,204.62 613.60,206.30 C615.60,209.37 615.20,223.31 615.90,223.30 C616.68,223.29 616.39,202.86 618.00,202.30 C618.65,202.08 619.73,203.50 620.40,204.80 C621.71,207.33 622.09,217.71 622.90,217.70 C623.76,217.69 624.67,202.89 625.40,202.90 C626.09,202.91 626.60,211.94 627.20,215.90 C627.70,219.23 628.25,225.12 628.70,225.10 C629.65,225.05 629.90,184.03 630.90,184.00 C631.65,183.98 632.78,207.19 633.60,207.20 C634.17,207.21 634.58,199.61 635.20,196.10 C635.76,192.91 636.48,186.97 637.10,187.00 C638.17,187.05 639.37,214.62 640.20,214.60 C640.97,214.59 641.12,190.62 642.00,190.60 C643.06,190.57 644.73,224.92 646.40,225.10 C647.16,225.18 648.12,218.22 648.80,218.30 C650.00,218.44 650.48,240.59 651.30,240.60 C651.91,240.61 652.50,228.19 653.10,228.20 C653.94,228.22 654.59,253.17 655.60,253.20 C656.50,253.23 657.74,233.49 658.70,233.50 C659.64,233.51 660.43,252.30 661.30,252.30 C662.13,252.30 662.95,235.51 663.80,235.50 C664.59,235.49 665.35,249.99 666.20,250.00 C667.02,250.01 667.98,236.30 668.80,236.30 C669.54,236.30 669.99,247.55 670.90,247.60 C671.82,247.65 673.37,236.23 674.30,236.30 C675.38,236.38 675.50,251.79 676.70,252.00 C677.40,252.12 678.39,247.21 679.20,247.30 C680.55,247.45 681.84,257.20 683.10,261.50 C684.16,265.11 685.20,271.15 686.20,271.40 C686.61,271.50 686.95,270.14 687.40,270.20 C688.26,270.32 689.69,273.71 690.50,275.70 C691.35,277.80 691.68,282.46 692.30,282.50 C692.73,282.53 693.10,279.38 693.60,279.40 C694.45,279.43 695.56,288.62 696.70,288.70 C697.66,288.77 698.88,282.42 699.80,282.50 C700.89,282.59 701.75,291.85 702.60,291.80 C703.75,291.73 704.74,274.51 705.60,274.50 C706.20,274.50 706.66,283.12 707.20,283.10 C708.18,283.06 708.46,258.46 710.20,254.10 C710.78,252.64 711.57,252.74 712.20,251.50 C713.38,249.20 714.36,244.68 715.40,240.70 C716.67,235.88 718.37,228.08 719.10,224.60 C719.45,222.94 719.21,221.17 719.80,220.90 C720.29,220.68 721.32,222.44 722.00,222.20 C723.30,221.75 723.76,214.56 725.30,213.50 C726.19,212.89 727.42,213.16 728.40,213.50 C729.51,213.89 730.36,215.38 731.50,216.00 C732.63,216.61 734.30,217.64 735.20,217.20 C736.24,216.69 736.17,212.48 737.00,212.30 C737.68,212.15 738.69,214.73 739.50,214.80 C740.15,214.86 740.61,213.51 741.40,213.50 C742.65,213.48 745.01,215.12 746.30,216.60 C747.77,218.29 748.50,223.24 749.40,223.40 C749.83,223.48 750.17,222.11 750.60,222.20 C751.66,222.43 752.86,229.36 754.30,232.00 C755.41,234.04 756.91,235.14 758.00,237.00 C759.20,239.04 760.15,241.25 761.10,243.80 C762.25,246.89 762.93,251.51 764.20,254.30 C765.14,256.35 766.45,257.56 767.40,259.30 C768.36,261.06 769.24,262.48 769.90,264.80 C770.91,268.37 770.06,276.90 771.70,279.00 C772.49,280.01 774.01,279.24 774.80,280.20 C776.22,281.91 776.05,287.37 776.70,290.70 C777.29,293.74 777.47,298.99 778.50,299.40 C779.02,299.61 779.86,297.86 780.40,298.10 C781.84,298.73 781.60,314.00 782.80,314.20 C783.50,314.31 784.55,309.17 785.30,309.30 C786.99,309.59 787.93,337.17 789.00,337.20 C789.58,337.22 789.95,329.10 790.60,329.10 C791.63,329.10 793.32,349.42 794.60,349.50 C795.35,349.54 796.06,342.69 796.80,342.70 C797.63,342.71 798.40,349.63 799.30,351.40 C799.75,352.29 800.24,352.25 800.70,353.20 C801.80,355.49 802.16,364.56 803.80,366.20 C804.52,366.92 805.65,366.44 806.30,366.80 C806.82,367.09 807.13,367.26 807.50,368.00 C808.76,370.54 809.24,387.70 810.10,387.70 C810.94,387.70 811.79,368.59 812.60,368.60 C813.46,368.61 814.22,390.19 815.10,390.20 C815.98,390.21 817.18,368.58 817.90,368.60 C818.60,368.62 817.68,388.48 819.40,389.00 C820.41,389.30 822.68,383.47 823.70,383.40 C824.20,383.37 824.53,384.72 824.90,384.60 C825.96,384.27 826.10,371.33 827.40,371.00 C828.10,370.82 829.17,374.31 829.90,374.10 C831.85,373.55 832.69,345.77 833.50,345.80 C834.19,345.82 834.11,366.79 834.70,366.80 C835.44,366.81 836.19,340.41 837.80,334.10 C838.49,331.38 839.59,330.53 840.20,328.50 C840.87,326.24 840.90,323.37 841.50,321.10 C842.03,319.08 842.91,315.44 843.50,315.50 C844.46,315.59 845.08,331.02 845.80,331.00 C846.71,330.98 847.45,305.61 848.30,305.60 C849.02,305.59 849.81,323.62 850.50,323.60 C851.49,323.57 852.34,285.83 853.20,285.80 C853.61,285.79 853.83,294.39 854.40,294.40 C855.37,294.42 857.10,275.99 858.80,269.80 C859.87,265.90 861.41,263.57 862.30,260.50 C863.14,257.61 863.52,254.37 864.10,251.90 C864.54,250.00 864.94,248.94 865.40,246.90 C866.12,243.72 866.92,234.66 867.80,234.60 C868.40,234.56 869.08,240.15 869.70,240.10 C870.79,240.01 871.47,222.51 872.80,222.20 C873.35,222.07 874.09,224.82 874.60,224.70 C875.62,224.45 875.79,215.89 876.50,212.30 C877.05,209.50 877.53,207.55 878.30,204.90 C879.22,201.75 880.60,198.39 881.80,194.70 C883.21,190.37 884.89,183.29 886.20,180.50 C886.80,179.23 887.33,179.16 887.90,177.90 C889.09,175.25 890.45,169.05 891.50,164.70 C892.51,160.52 892.85,155.08 894.10,152.30 C894.83,150.67 895.95,150.38 896.70,148.80 C897.89,146.30 898.28,138.36 899.40,138.20 C900.16,138.09 901.24,142.71 902.00,142.60 C903.12,142.44 903.43,132.33 904.70,132.00 C905.44,131.80 906.62,134.92 907.30,134.70 C908.54,134.31 908.18,122.65 909.20,122.50 C909.93,122.39 910.77,127.93 912.00,128.30 C912.98,128.59 914.48,126.00 915.50,126.20 C916.60,126.42 917.25,129.97 918.30,130.00 C919.56,130.04 921.39,126.94 922.60,124.80 C924.11,122.13 924.90,117.13 926.10,114.90 C926.79,113.61 927.40,112.35 928.20,112.10 C928.84,111.90 929.69,113.13 930.30,112.80 C931.66,112.06 931.94,104.53 933.10,102.20 C933.76,100.87 934.69,100.78 935.30,99.40 C936.45,96.78 936.70,90.93 937.40,86.70 C938.10,82.47 938.64,74.07 939.50,74.00 C940.12,73.95 940.55,79.54 941.60,80.30 C942.19,80.73 943.10,79.80 943.70,80.30 C945.32,81.64 945.55,95.07 946.50,95.10 C947.22,95.13 947.86,86.69 948.70,86.70 C949.89,86.71 951.04,102.15 952.90,103.60 C953.54,104.10 954.42,103.10 955.00,103.60 C956.51,104.90 955.83,115.17 957.10,117.70 C957.68,118.85 958.55,118.70 959.20,119.80 C960.48,121.97 960.91,129.32 962.40,131.00 C963.11,131.79 964.12,131.14 964.80,132.00 C966.54,134.20 966.20,147.00 967.60,148.90 C968.02,149.47 968.55,148.98 969.00,149.60 C971.17,152.56 972.12,179.86 974.70,184.90 C975.56,186.58 976.76,186.31 977.50,187.70 C978.73,190.02 978.66,198.36 979.60,198.50 C980.20,198.59 981.06,194.40 981.70,194.50 C982.96,194.69 982.98,210.42 984.80,211.60 C985.49,212.04 986.51,210.53 987.20,211.00 C989.46,212.56 989.33,237.48 990.30,237.50 C990.96,237.51 991.65,225.17 992.20,225.20 C993.28,225.26 993.37,272.76 994.50,272.80 C995.27,272.83 996.54,250.96 997.30,251.00 C998.88,251.08 998.72,346.99 999.70,347.00 C1000.53,347.01 1001.71,277.79 1002.60,277.80 C1003.63,277.81 1004.34,369.29 1005.40,369.30 C1006.33,369.31 1007.62,298.79 1008.50,298.80 C1009.49,298.81 1010.00,387.70 1010.90,387.70 C1011.72,387.70 1012.49,313.61 1013.60,313.60 C1014.60,313.59 1016.13,373.61 1017.10,373.60 C1018.00,373.59 1018.36,321.81 1019.30,321.80 C1020.23,321.79 1021.71,371.81 1022.70,371.80 C1023.63,371.79 1024.10,327.32 1025.10,327.30 C1026.05,327.29 1027.52,367.51 1028.50,367.50 C1029.45,367.49 1029.95,329.82 1030.90,329.80 C1031.75,329.79 1032.82,360.10 1033.80,360.10 C1034.73,360.10 1035.78,332.90 1036.60,332.90 C1037.24,332.90 1037.55,349.58 1038.30,349.60 C1039.07,349.62 1040.37,332.29 1041.20,332.30 C1041.90,332.31 1042.30,344.59 1043.00,344.60 C1043.88,344.61 1045.10,325.54 1046.10,325.50 C1046.75,325.48 1047.30,333.51 1048.00,333.50 C1048.95,333.49 1049.87,320.95 1051.20,318.70 C1051.70,317.86 1052.32,318.14 1052.80,317.30 C1054.04,315.11 1054.67,303.11 1055.40,303.10 C1055.85,303.09 1055.99,308.57 1056.60,308.60 C1057.63,308.65 1060.16,293.27 1061.50,293.20 C1062.22,293.16 1062.82,297.57 1063.40,297.50 C1064.37,297.39 1064.82,288.36 1065.90,284.60 C1066.77,281.54 1068.03,276.58 1069.00,276.50 C1069.63,276.45 1070.25,279.70 1070.80,279.60 C1072.07,279.37 1072.22,263.47 1073.90,261.10 C1074.49,260.27 1075.32,260.79 1075.90,260.00 C1077.35,258.03 1077.66,246.31 1078.70,246.20 C1079.30,246.14 1080.00,250.57 1080.60,250.50 C1081.70,250.38 1082.34,235.28 1083.60,235.10 C1084.34,235.00 1085.38,240.10 1086.10,240.00 C1087.21,239.84 1087.67,227.06 1088.60,227.00 C1089.28,226.96 1090.00,233.80 1090.80,233.80 C1091.79,233.80 1092.94,223.50 1094.10,223.30 C1094.72,223.19 1095.38,225.90 1096.00,225.80 C1097.09,225.62 1098.20,216.61 1099.10,216.50 C1099.53,216.45 1099.88,218.45 1100.30,218.40 C1101.08,218.31 1101.43,212.35 1102.80,211.00 C1103.77,210.05 1105.53,210.73 1106.50,209.80 C1107.82,208.53 1107.82,203.72 1109.00,203.00 C1109.68,202.58 1110.60,203.40 1111.40,203.30 C1112.24,203.19 1113.15,202.07 1113.90,202.30 C1114.87,202.60 1115.47,205.66 1116.40,206.00 C1117.05,206.24 1117.84,205.15 1118.50,205.40 C1119.52,205.79 1120.25,209.52 1121.30,209.80 C1122.07,210.01 1123.03,208.27 1123.80,208.50 C1124.97,208.85 1125.75,213.76 1126.90,214.10 C1127.65,214.32 1128.53,212.69 1129.30,212.80 C1130.17,212.93 1130.85,214.68 1131.80,215.30 C1132.72,215.90 1134.00,215.68 1134.90,216.50 C1136.20,217.69 1136.94,222.42 1138.00,222.70 C1138.59,222.86 1139.23,221.35 1139.80,221.50 C1140.71,221.74 1141.54,226.41 1142.30,226.40 C1142.96,226.39 1143.27,223.52 1144.10,222.70 C1144.78,222.02 1145.94,222.31 1146.60,221.50 C1147.70,220.16 1147.62,216.58 1148.50,214.10 C1149.45,211.42 1151.29,208.89 1152.20,206.00 C1153.16,202.94 1153.50,199.51 1154.00,196.20 C1154.51,192.84 1154.39,189.38 1155.20,186.00 C1156.05,182.47 1158.02,179.30 1159.10,175.50 C1160.32,171.19 1160.72,165.11 1161.90,161.40 C1162.72,158.83 1163.89,157.77 1164.70,155.10 C1165.98,150.87 1166.07,138.48 1167.60,138.10 C1168.39,137.90 1169.61,141.88 1170.40,141.70 C1171.77,141.38 1172.28,128.33 1173.20,128.30 C1173.91,128.28 1174.44,135.93 1175.30,136.00 C1176.10,136.06 1177.22,129.65 1178.10,129.70 C1179.14,129.76 1180.02,138.83 1181.00,138.90 C1181.69,138.95 1182.40,134.52 1183.10,134.60 C1184.49,134.76 1186.02,152.99 1187.30,153.00 C1188.31,153.01 1189.25,141.66 1190.10,141.70 C1191.21,141.75 1191.54,157.89 1193.00,161.40 C1193.61,162.87 1194.48,162.78 1195.10,164.20 C1196.41,167.21 1196.69,176.59 1197.90,179.80 C1198.50,181.38 1199.23,182.09 1199.90,183.10 C1200.50,184.00 1201.23,184.40 1201.70,185.60 C1202.57,187.82 1202.69,192.37 1203.00,196.00 C1203.34,199.95 1203.15,204.51 1203.60,208.40 C1204.00,211.90 1204.65,215.13 1205.40,218.30 C1206.10,221.29 1207.28,224.06 1207.90,226.90 C1208.49,229.62 1208.68,232.31 1209.10,235.00 C1209.52,237.68 1209.42,241.67 1210.40,243.00 C1210.92,243.70 1211.78,243.34 1212.40,244.00 C1213.54,245.22 1214.34,248.78 1215.30,251.00 C1216.18,253.03 1217.14,254.39 1217.90,256.80 C1219.04,260.42 1219.82,266.64 1220.60,270.90 C1221.25,274.43 1221.56,280.52 1222.30,280.60 C1222.82,280.66 1223.30,277.06 1224.10,276.20 C1224.62,275.64 1225.38,275.03 1225.90,275.30 C1227.49,276.14 1227.49,293.75 1228.50,293.80 C1229.31,293.84 1230.51,282.25 1231.20,282.30 C1232.15,282.37 1231.47,304.12 1232.90,304.40 C1233.76,304.57 1235.33,297.27 1236.40,297.30 C1237.39,297.32 1237.95,303.28 1239.10,303.50 C1240.08,303.69 1241.66,299.73 1242.60,300.00 C1244.04,300.41 1244.47,311.43 1245.30,311.40 C1246.25,311.37 1246.88,296.44 1247.90,296.40 C1248.84,296.36 1250.16,308.85 1251.10,308.80 C1252.31,308.73 1253.00,287.64 1254.10,287.60 C1254.91,287.57 1255.86,299.11 1256.70,299.10 C1257.63,299.08 1258.53,285.04 1259.40,285.00 C1259.98,284.98 1260.46,291.12 1261.10,291.10 C1262.12,291.08 1263.58,275.31 1264.70,275.30 C1265.62,275.29 1266.61,285.95 1267.30,285.90 C1268.18,285.84 1268.11,268.31 1269.10,268.20 C1269.78,268.13 1271.02,276.27 1271.70,276.20 C1272.67,276.10 1272.45,263.82 1273.50,259.40 C1274.22,256.38 1275.55,254.90 1276.30,252.00 C1277.30,248.12 1277.03,238.54 1278.30,238.00 C1278.80,237.79 1279.60,239.50 1280.10,239.30 C1281.17,238.87 1281.23,232.87 1282.00,229.40 C1282.86,225.49 1284.33,220.82 1285.10,217.00 C1285.75,213.78 1285.90,210.69 1286.50,208.00 C1287.00,205.75 1287.37,202.25 1288.30,201.90 C1288.90,201.68 1289.86,203.56 1290.50,203.30 C1291.85,202.76 1292.28,196.22 1293.30,192.10 C1294.56,187.02 1296.15,179.76 1297.50,175.10 C1298.46,171.79 1299.32,168.88 1300.30,166.70 C1300.98,165.21 1301.70,163.19 1302.40,163.10 C1302.90,163.04 1303.42,164.73 1303.90,164.60 C1305.06,164.28 1305.91,152.67 1307.00,152.60 C1307.80,152.55 1308.78,158.96 1309.50,158.90 C1310.35,158.83 1310.72,149.74 1311.60,149.70 C1312.56,149.65 1313.65,159.57 1315.10,160.30 C1315.74,160.62 1316.56,159.27 1317.20,159.60 C1318.73,160.39 1319.74,171.58 1320.80,171.60 C1321.57,171.61 1322.15,165.31 1322.90,165.30 C1323.71,165.29 1324.63,170.10 1325.50,172.50" fill="none" stroke="#0000ff" stroke-width="1.8" stroke-linejoin="round" stroke-linecap="square"/>
<rect x="98.90" y="34.90" width="1284.65" height="478.73" fill="none" stroke="#000" stroke-width="1.25" stroke-linejoin="miter"/>
<line x1="241.83" y1="513.63" x2="241.83" y2="519.73" stroke="#000" stroke-width="1.25"/>
<line x1="519.64" y1="513.63" x2="519.64" y2="519.73" stroke="#000" stroke-width="1.25"/>
<line x1="798.70" y1="513.63" x2="798.70" y2="519.73" stroke="#000" stroke-width="1.25"/>
<line x1="1076.56" y1="513.63" x2="1076.56" y2="519.73" stroke="#000" stroke-width="1.25"/>
<line x1="1355.70" y1="513.63" x2="1355.70" y2="519.73" stroke="#000" stroke-width="1.25"/>
<line x1="92.60" y1="117.27" x2="98.90" y2="117.27" stroke="#000" stroke-width="1.25"/>
<line x1="92.60" y1="202.27" x2="98.90" y2="202.27" stroke="#000" stroke-width="1.25"/>
<line x1="92.60" y1="288.27" x2="98.90" y2="288.27" stroke="#000" stroke-width="1.25"/>
<line x1="92.60" y1="373.15" x2="98.90" y2="373.15" stroke="#000" stroke-width="1.25"/>
<line x1="92.60" y1="459.15" x2="98.90" y2="459.15" stroke="#000" stroke-width="1.25"/>
<text x="211.24" y="537.60" font-size="16.40" textLength="59.56" lengthAdjust="spacingAndGlyphs" fill="#000" >120000</text>
<text x="490.34" y="537.60" font-size="16.40" textLength="59.56" lengthAdjust="spacingAndGlyphs" fill="#000" >125000</text>
<text x="768.35" y="537.60" font-size="16.40" textLength="59.35" lengthAdjust="spacingAndGlyphs" fill="#000" >130000</text>
<text x="1047.55" y="537.60" font-size="16.40" textLength="58.94" lengthAdjust="spacingAndGlyphs" fill="#000" >135000</text>
<text x="1325.25" y="537.60" font-size="16.40" textLength="59.25" lengthAdjust="spacingAndGlyphs" fill="#000" >140000</text>
<text x="66.06" y="123.60" font-size="16.40" textLength="19.69" lengthAdjust="spacingAndGlyphs" fill="#000" >20</text>
<text x="77.51" y="208.30" font-size="16.40" textLength="9.77" lengthAdjust="spacingAndGlyphs" fill="#000" >0</text>
<text x="65.51" y="293.30" font-size="16.40" textLength="19.79" lengthAdjust="spacingAndGlyphs" fill="#000" >20</text>
<rect x="54.50" y="287.71" width="9.80" height="1.3" fill="#000"/>
<text x="65.90" y="379.10" font-size="16.40" textLength="19.38" lengthAdjust="spacingAndGlyphs" fill="#000" >40</text>
<rect x="54.50" y="373.68" width="9.60" height="1.3" fill="#000"/>
<text x="65.58" y="464.40" font-size="16.40" textLength="20.23" lengthAdjust="spacingAndGlyphs" fill="#000" >60</text>
<rect x="54.50" y="458.65" width="9.60" height="1.3" fill="#000"/>
<text x="699.20" y="560.50" font-size="16.20" textLength="80.92" lengthAdjust="spacingAndGlyphs" fill="#000" >Time (ms)</text>
<g transform="translate(41.0,340.0) rotate(-90)"><text x="-0.03" y="0.00" font-size="16.20" textLength="130.35" lengthAdjust="spacingAndGlyphs" fill="#000" >Angle (Degrees)</text></g>
<text x="599.09" y="24.60" font-size="20.60" textLength="282.26" lengthAdjust="spacingAndGlyphs" fill="#000" >Pitch: Raw vs. Low-Pass Filter</text>
<rect x="1212.6" y="42.8" width="162.9" height="53.7" rx="3" ry="3" fill="#fff" fill-opacity="0.8" stroke="#cccccc" stroke-width="1.1"/>
<line x1="1218.4" y1="56.3" x2="1252.8" y2="56.3" stroke="#878787" stroke-width="2.4"/>
<line x1="1218.6" y1="81.45" x2="1252.8" y2="81.45" stroke="#0000ff" stroke-width="1.6"/>
<text x="1264.16" y="62.00" font-size="16.40" textLength="79.19" lengthAdjust="spacingAndGlyphs" fill="#000" >Raw Pitch</text>
<text x="1264.13" y="86.20" font-size="16.40" textLength="104.74" lengthAdjust="spacingAndGlyphs" fill="#000" >Filtered Pitch</text>
</g>
</svg>
</body></html>
